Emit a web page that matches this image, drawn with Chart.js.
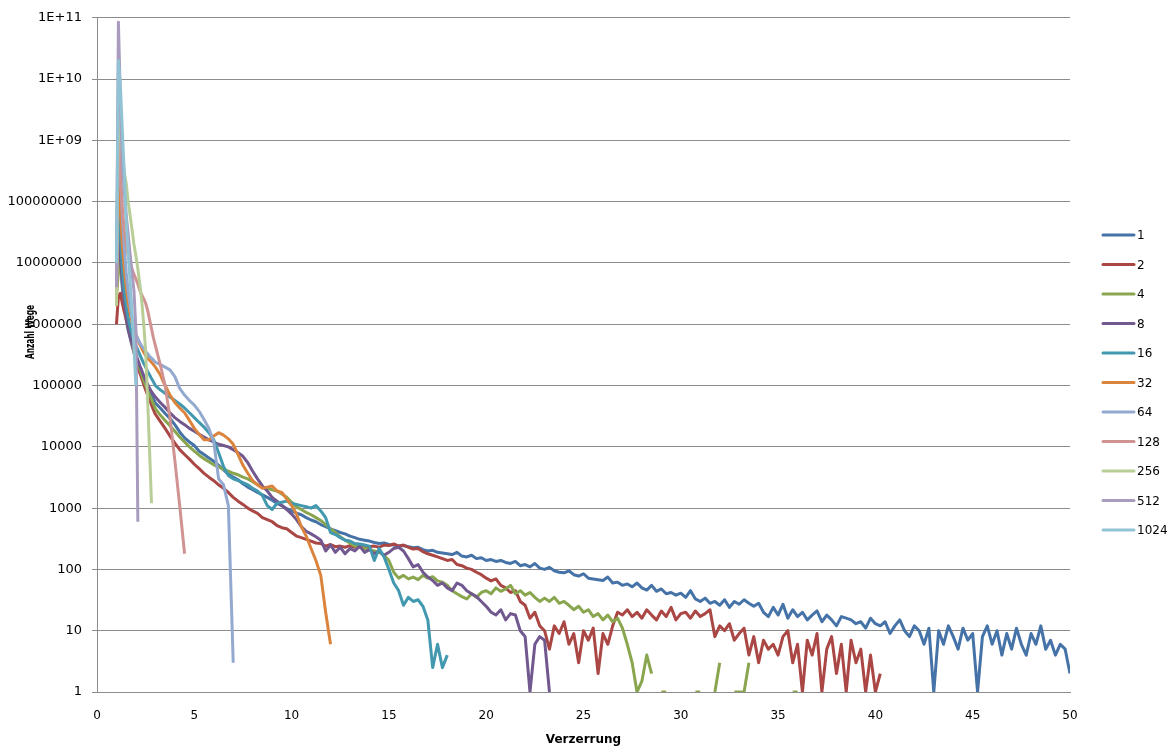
<!DOCTYPE html>
<html>
<head>
<meta charset="utf-8">
<title>Anzahl Wege nach Verzerrung</title>
<script src="https://cdn.jsdelivr.net/npm/chart.js@4.4.1/dist/chart.umd.min.js"></script>
<style>
  html, body { margin: 0; padding: 0; background: #ffffff; }
  #wrap { width: 1176px; height: 747px; }
</style>
</head>
<body>
<div id="wrap"><canvas id="wege" width="1176" height="747"></canvas></div>
<script>
// Verzerrung: 1.0 .. 3.0 in 0.1 steps, then 3.25 .. 50 in 0.25 steps
const distortion = [];
for (let i = 0; i <= 20; i++) distortion.push(Math.round((1 + i * 0.1) * 10) / 10);
for (let i = 1; i <= 188; i++) distortion.push(3 + i * 0.25);

const seriesNames = ['1', '2', '4', '8', '16', '32', '64', '128', '256', '512', '1024'];
const seriesColors = ['#4572A7', '#AA4643', '#89A54E', '#71588F', '#4198AF', '#DB843D',
                      '#93A9CF', '#D19392', '#B9CD96', '#A99BBD', '#92C3D4'];

const yTickValues = [1, 10, 100, 1e3, 1e4, 1e5, 1e6, 1e7, 1e8, 1e9, 1e10, 1e11];
const yTickLabels = ['1', '10', '100', '1000', '10000', '100000', '1000000', '10000000',
                     '100000000', '1E+09', '1E+10', '1E+11'];

// first 21 values: x = 1.0 .. 3.0, then one row of four per unit (n.25, n.5, n.75, n+1)
const wege1 = [4e6, 4e7, 1e7, 4e6, 2e6, 1.2e6, 8e5, 6e5, 4.5e5, 3.5e5, 2.8e5, 2.25e5, 1.8e5, 1.5e5, 1.25e5, 1.05e5, 9e4, 7.8e4, 6.8e4, 6e4, 5.2e4,
  4.3e4, 3.5e4, 2.9e4, 2.3e4,
  1.75e4, 1.4e4, 1.2e4, 1.05e4,
  8.5e3, 7.5e3, 6.6e3, 5.8e3,
  5e3, 4.2e3, 3.6e3, 3.2e3,
  2.9e3, 2.5e3, 2.2e3, 2e3,
  1.8e3, 1.65e3, 1.5e3, 1.35e3,
  1.2e3, 1.1e3, 980, 900,
  830, 780, 700, 640,
  600, 540, 500, 460,
  430, 400, 380, 350,
  330, 310, 300, 290,
  275, 265, 270, 255,
  250, 240, 245, 235,
  225, 230, 210, 200,
  205, 190, 185, 180,
  175, 190, 165, 160,
  170, 150, 155, 140,
  145, 135, 140, 130,
  125, 135, 115, 120,
  110, 125, 105, 100,
  108, 95, 90, 88,
  95, 82, 78, 85,
  72, 70, 68, 66,
  75, 60, 62, 55,
  58, 52, 60, 50,
  46, 55, 44, 48,
  40, 42, 38, 41,
  35, 45, 33, 30,
  34, 28, 30, 26,
  32, 24, 30, 27,
  32, 28, 25, 28,
  20, 17, 24, 18,
  27, 16, 22, 17,
  20, 15, 18, 21,
  14, 18, 15, 12,
  17, 16, 15, 13,
  14, 11, 16, 13,
  12, 14, 9, 12,
  15, 10, 8, 12,
  10, 6, 11, 1,
  10, 6, 12, 8,
  5, 11, 7, 9,
  1, 8, 12, 6,
  10, 4, 9, 5,
  11, 6, 4, 9,
  6, 12, 5, 7,
  4, 6, 5, 2];

const wege2 = [1e6, 2.8e6, 3.2e6, 2.2e6, 1.6e6, 1.2e6, 9e5, 6.5e5, 4.8e5, 3.5e5, 2.6e5, 2e5, 1.6e5, 1.3e5, 1.05e5, 8.5e4, 7e4, 5.8e4, 4.8e4, 4e4, 3.4e4,
  2.6e4, 2e4, 1.5e4, 1.15e4,
  9e3, 7.5e3, 6.3e3, 5.2e3,
  4.4e3, 3.7e3, 3.2e3, 2.8e3,
  2.4e3, 2.1e3, 1.8e3, 1.5e3,
  1.3e3, 1.15e3, 1e3, 900,
  820, 700, 650, 600,
  520, 480, 460, 400,
  350, 330, 310, 290,
  270, 265, 240, 255,
  235, 240, 230, 245,
  230, 240, 225, 235,
  240, 230, 250, 245,
  260, 240, 250, 230,
  215, 220, 195, 180,
  170, 160, 150, 140,
  145, 120, 115, 105,
  100, 90, 82, 72,
  65, 70, 55, 50,
  42, 45, 30, 26,
  16, 20, 12, 10,
  5, 12, 9, 14,
  6, 9, 3, 10,
  7, 11, 2, 9,
  6, 12, 20, 18,
  22, 17, 20, 16,
  22, 18, 15, 21,
  17, 24, 15, 19,
  20, 16, 21, 17,
  19, 22, 8, 12,
  10, 13, 7, 9,
  11, 4, 8, 3,
  7, 5, 6, 4,
  8, 10, 3, 6,
  1, 7, 4, 9,
  1, 5, 8, 2,
  6, 1, 7, 3,
  5, 1, 4, 1,
  2];

const wege4 = [3e6, 7e6, 1e7, 5e6, 2.5e6, 1.5e6, 1e6, 7e5, 5e5, 3.8e5, 3e5, 2.4e5, 1.9e5, 1.5e5, 1.2e5, 1e5, 8.5e4, 7e4, 6e4, 5e4, 4.2e4,
  3.3e4, 2.7e4, 2.2e4, 1.8e4,
  1.45e4, 1.2e4, 1e4, 8.5e3,
  7.3e3, 6.4e3, 5.7e3, 5.1e3,
  4.7e3, 4.3e3, 4e3, 3.7e3,
  3.5e3, 3.2e3, 3e3, 2.7e3,
  2.4e3, 2.2e3, 2.1e3, 2e3,
  1.9e3, 1.7e3, 1.5e3, 1.25e3,
  1.05e3, 950, 850, 780,
  700, 630, 540, 460,
  400, 340, 300, 270,
  240, 230, 220, 210,
  200, 190, 170, 140,
  90, 72, 80, 70,
  75, 68, 80, 72,
  76, 65, 62, 55,
  45, 40, 36, 33,
  40, 35, 42, 45,
  40, 50, 44, 48,
  55, 40, 45, 38,
  42, 35, 30, 34,
  30, 35, 28, 30,
  26, 22, 25, 20,
  22, 17, 19, 15,
  18, 14, 16, 11,
  6, 3, 1, 1.5,
  4, 2, null, 1,
  1, null, null, null,
  null, null, 1, 1,
  null, null, 1, 3,
  null, null, 1, 1,
  1, 3, null, null,
  null, null, null, null,
  null, null, 1, 1];

const wege8 = [5e6, 3e7, 1.2e7, 5e6, 2.4e6, 1.4e6, 9e5, 6.5e5, 5e5, 4e5, 3.2e5, 2.6e5, 2.1e5, 1.75e5, 1.45e5, 1.2e5, 1.05e5, 9e4, 8e4, 7.2e4, 6.5e4,
  5.3e4, 4.4e4, 3.6e4, 3e4,
  2.6e4, 2.3e4, 2e4, 1.8e4,
  1.6e4, 1.45e4, 1.3e4, 1.2e4,
  1.1e4, 1.05e4, 1e4, 9e3,
  8e3, 7e3, 5.5e3, 4e3,
  3e3, 2.3e3, 1.9e3, 1.5e3,
  1.3e3, 1.1e3, 950, 800,
  650, 500, 420, 380,
  340, 300, 200, 250,
  190, 230, 180, 220,
  200, 240, 190, 210,
  180, 200, 170, 190,
  220, 230, 200, 150,
  110, 120, 90, 75,
  66, 55, 60, 50,
  45, 60, 55, 45,
  40, 36, 30, 25,
  20, 18, 22, 15,
  19, 18, 10, 8,
  1, 6, 8, 7,
  1];

const wege16 = [3e6, 2e8, 3e7, 8e6, 3.5e6, 2e6, 1.3e6, 9e5, 7e5, 5.5e5, 4.5e5, 3.8e5, 3.2e5, 2.7e5, 2.3e5, 2e5, 1.7e5, 1.5e5, 1.3e5, 1.15e5, 1e5,
  8.5e4, 7.5e4, 6.5e4, 5.7e4,
  5e4, 4.3e4, 3.6e4, 3e4,
  2.5e4, 2.1e4, 1.7e4, 1.3e4,
  8e3, 4.8e3, 3.4e3, 3e3,
  2.8e3, 2.6e3, 2.4e3, 2.1e3,
  1.9e3, 1.6e3, 1.1e3, 950,
  1.2e3, 1.25e3, 1.3e3, 1.2e3,
  1.15e3, 1.1e3, 1.05e3, 1e3,
  1.1e3, 900, 700, 400,
  370, 330, 300, 290,
  265, 260, 250, 240,
  140, 220, 160, 100,
  60, 45, 26, 35,
  30, 32, 25, 15,
  2.5, 6, 2.5, 4];

const wege32 = [2e6, 5e8, 8e7, 2e7, 8e6, 4e6, 2.3e6, 1.5e6, 1.1e6, 8.5e5, 6.8e5, 5.6e5, 4.7e5, 4e5, 3.5e5, 3.1e5, 2.8e5, 2.6e5, 2.4e5, 2.2e5, 2e5,
  1.5e5, 1e5, 7e4, 5.3e4,
  4.3e4, 3.6e4, 2.7e4, 2e4,
  1.6e4, 1.3e4, 1.3e4, 1.5e4,
  1.7e4, 1.55e4, 1.35e4, 1.1e4,
  7.5e3, 5e3, 3.7e3, 2.8e3,
  2.4e3, 2.1e3, 2.2e3, 2.3e3,
  1.9e3, 1.8e3, 1.4e3, 1.1e3,
  800, 500, 350, 220,
  140, 80, 20, 6];

const wege64 = [5e6, 3e9, 3e8, 6e7, 1.8e7, 7e6, 3.5e6, 2e6, 1.3e6, 9e5, 7e5, 5.8e5, 5e5, 4.4e5, 4e5, 3.6e5, 3.3e5, 3e5, 2.8e5, 2.6e5, 2.4e5,
  2.2e5, 2e5, 1.8e5, 1.4e5,
  9e4, 7e4, 5.7e4, 4.8e4,
  3.8e4, 2.8e4, 2e4, 1.2e4,
  3e3, 2.4e3, 1.1e3, 3];

const wege128 = [3e6, 2e9, 3e8, 8e7, 3.5e7, 2e7, 1.3e7, 1e7, 8e6, 6.5e6, 5.5e6, 4.5e6, 3.6e6, 3e6, 2.6e6, 2.2e6, 1.7e6, 1.2e6, 8.5e5, 6e5, 4.5e5,
  2.2e5, 1e5, 3e4, 6e3,
  1.1e3, 180];

const wege256 = [2e6, 5e9, 1.5e9, 6e8, 3e8, 2e8, 1e8, 6e7, 3.5e7, 2e7, 1.3e7, 8e6, 4.5e6, 2.4e6, 1e6, 3.7e5, 6e4, 9e3, 1.2e3];

const wege512 = [4e6, 8.5e10, 5e9, 4e8, 1.5e8, 6e7, 3e7, 1.4e7, 7e6, 3.5e6, 8e5, 600];

const wege1024 = [1e7, 2e10, 8e9, 1.5e9, 3e8, 5e7, 1.5e7, 5e6, 1.6e6, 4e5, 1e5];

const seriesValues = [wege1, wege2, wege4, wege8, wege16, wege32, wege64, wege128, wege256, wege512, wege1024];

const gridGray = '#8C8C8C';

// rotated y title, drawn over the tick labels like in the original
const yTitlePlugin = {
  id: 'yTitle',
  afterDraw(chart) {
    const ctx = chart.ctx;
    ctx.save();
    ctx.font = 'bold 12px "DejaVu Sans", sans-serif';
    const w = ctx.measureText('Anzahl Wege').width;
    ctx.translate(31, 332);
    ctx.rotate(-Math.PI / 2);
    ctx.scale(54 / w, 1.05);
    ctx.fillStyle = '#000';
    ctx.textAlign = 'center';
    ctx.textBaseline = 'middle';
    ctx.fillText('Anzahl Wege', 0, 0);
    ctx.restore();
  }
};

// legend on the right
const sideLegend = {
  id: 'sideLegend',
  afterDraw(chart) {
    const ctx = chart.ctx;
    ctx.save();
    ctx.font = '12px "DejaVu Sans", sans-serif';
    ctx.textBaseline = 'middle';
    chart.data.datasets.forEach((ds, i) => {
      const y = 235 + i * 29.5;
      ctx.strokeStyle = ds.borderColor;
      ctx.lineWidth = 3;
      ctx.lineCap = 'round';
      ctx.beginPath();
      ctx.moveTo(1103, y);
      ctx.lineTo(1134, y);
      ctx.stroke();
      ctx.fillStyle = '#000';
      ctx.fillText(ds.label, 1137, y + 1);
    });
    ctx.restore();
  }
};

const ctx = document.getElementById('wege').getContext('2d');

const datasets = seriesNames.map((name, i) => ({
  label: name,
  data: seriesValues[i].map((v, k) => ({ x: distortion[k], y: v })),
  borderColor: seriesColors[i],
  backgroundColor: seriesColors[i],
  borderWidth: 3,
  borderJoinStyle: 'round',
  pointRadius: 0,
  tension: 0,
  spanGaps: false,
  order: seriesNames.length - i
}));

window.wegeChart = new Chart(ctx, {
  type: 'line',
  data: { datasets: datasets },
  options: {
    responsive: false,
    animation: false,
    layout: { padding: { left: 0, right: 106, top: 16, bottom: 0 } },
    plugins: {
      legend: { display: false },
      tooltip: { enabled: false }
    },
    scales: {
      x: {
        type: 'linear',
        min: 0,
        max: 50,
        ticks: {
          stepSize: 5,
          padding: 9,
          color: '#000',
          font: { family: '"DejaVu Sans", sans-serif', size: 12 }
        },
        grid: { display: false },
        border: { color: gridGray, width: 1 },
        title: {
          display: true,
          text: 'Verzerrung',
          color: '#000',
          font: { family: '"DejaVu Sans", sans-serif', size: 12, weight: 'bold' },
          padding: { top: 0, bottom: 0 }
        },
        afterFit: (scale) => { scale.height = 55; }
      },
      y: {
        type: 'logarithmic',
        min: 1,
        max: 1e11,
        afterBuildTicks: (scale) => {
          scale.ticks = yTickValues.map(v => ({ value: v }));
        },
        afterFit: (scale) => { scale.width = 97; },
        ticks: {
          autoSkip: false,
          padding: 10,
          color: '#000',
          font: { family: '"DejaVu Sans", sans-serif', size: 13 },
          callback: (value, index) => yTickLabels[index]
        },
        grid: { color: gridGray, lineWidth: 1, tickLength: 5 },
        border: { color: gridGray, width: 1 }
      }
    }
  },
  plugins: [yTitlePlugin, sideLegend]
});
</script>
</body>
</html>
